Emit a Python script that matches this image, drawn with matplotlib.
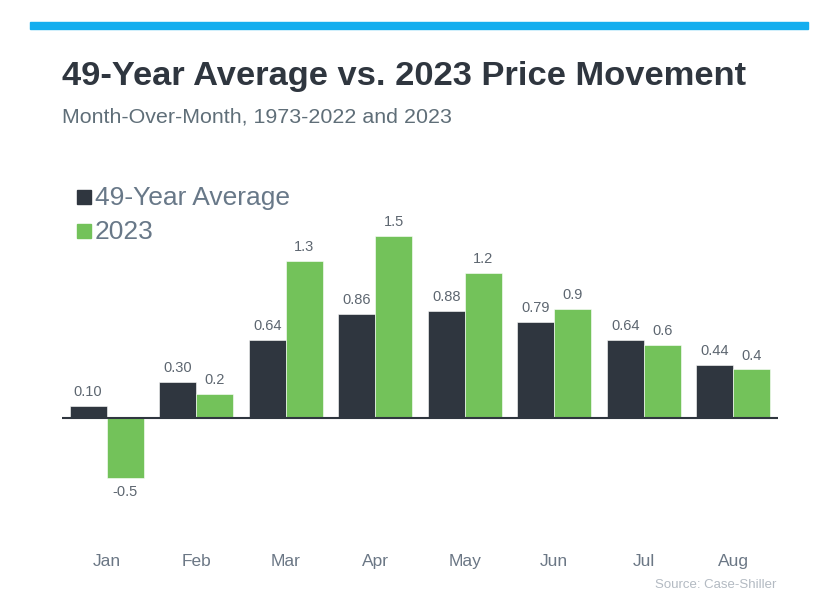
import matplotlib.pyplot as plt
from matplotlib.patches import Rectangle

months = ['Jan', 'Feb', 'Mar', 'Apr', 'May', 'Jun', 'Jul', 'Aug']
avg_49 = [0.10, 0.30, 0.64, 0.86, 0.88, 0.79, 0.64, 0.44]
y2023 = [-0.5, 0.2, 1.3, 1.5, 1.2, 0.9, 0.6, 0.4]
avg_labels = ['0.10', '0.30', '0.64', '0.86', '0.88', '0.79', '0.64', '0.44']
y2023_labels = ['-0.5', '0.2', '1.3', '1.5', '1.2', '0.9', '0.6', '0.4']

dark = '#2f363f'
green = '#73c25a'
blue = '#14aeef'
label_col = '#5d6670'
axis_col = '#6b7785'

plt.rcParams['font.family'] = ['Liberation Sans', 'DejaVu Sans']

W, H = 836, 604
fig = plt.figure(figsize=(W / 100, H / 100), dpi=100)

# top blue band
fig.patches.append(Rectangle((30 / W, 1 - 29 / H), 778 / W, 7 / H,
                             transform=fig.transFigure, color=blue))

fig.text(62 / W, 1 - 76 / H, '49-Year Average vs. 2023 Price Movement',
         fontsize=24.8, fontweight='bold', color='#2f363f', va='center')
fig.text(62 / W, 1 - 117 / H, 'Month-Over-Month, 1973-2022 and 2023',
         fontsize=15.4, color='#5f6e78', va='center')

# axes: x from 62 to 778 px, y from 200 to 539 px
ax = fig.add_axes([62 / W, 1 - 539 / H, 716 / W, 339 / H])
x = list(range(len(months)))
w = 0.415
ax.bar([i - w / 2 for i in x], avg_49, w, color=dark, edgecolor='white', linewidth=0.4)
ax.bar([i + w / 2 for i in x], y2023, w, color=green, edgecolor='white', linewidth=0.4)

for i in x:
    ax.annotate(avg_labels[i], (i - w / 2, avg_49[i]), xytext=(0, 5),
                textcoords='offset points', ha='center', va='bottom',
                fontsize=10.5, color=label_col)
    v = y2023[i]
    ax.annotate(y2023_labels[i], (i + w / 2, v), xytext=(0, 5 if v >= 0 else -5),
                textcoords='offset points', ha='center',
                va='bottom' if v >= 0 else 'top', fontsize=10.5, color=label_col)

ax.axhline(0, color='#2f363f', linewidth=1.5)
ax.set_xlim(-0.5, 7.5)
ax.set_ylim(-1.0, 1.8)
ax.set_xticks(x)
ax.set_xticklabels(months, fontsize=12.5, color=axis_col)
ax.tick_params(axis='x', length=0, pad=11)
ax.set_yticks([])
for s in ax.spines.values():
    s.set_visible(False)

# legend
for k, (name, col) in enumerate([('49-Year Average', dark), ('2023', green)]):
    yc = 197 + 34 * k
    fig.patches.append(Rectangle((77 / W, 1 - (yc + 7) / H), 14 / W, 14 / H,
                                 transform=fig.transFigure, color=col))
    fig.text(95 / W, 1 - (yc + 1) / H, name, fontsize=19, color='#687888', va='center')

fig.text(776 / W, 1 - 585 / H, 'Source: Case-Shiller', fontsize=9.5,
         color='#b3bac2', ha='right', va='center')

fig.savefig('out.png', dpi=100)
